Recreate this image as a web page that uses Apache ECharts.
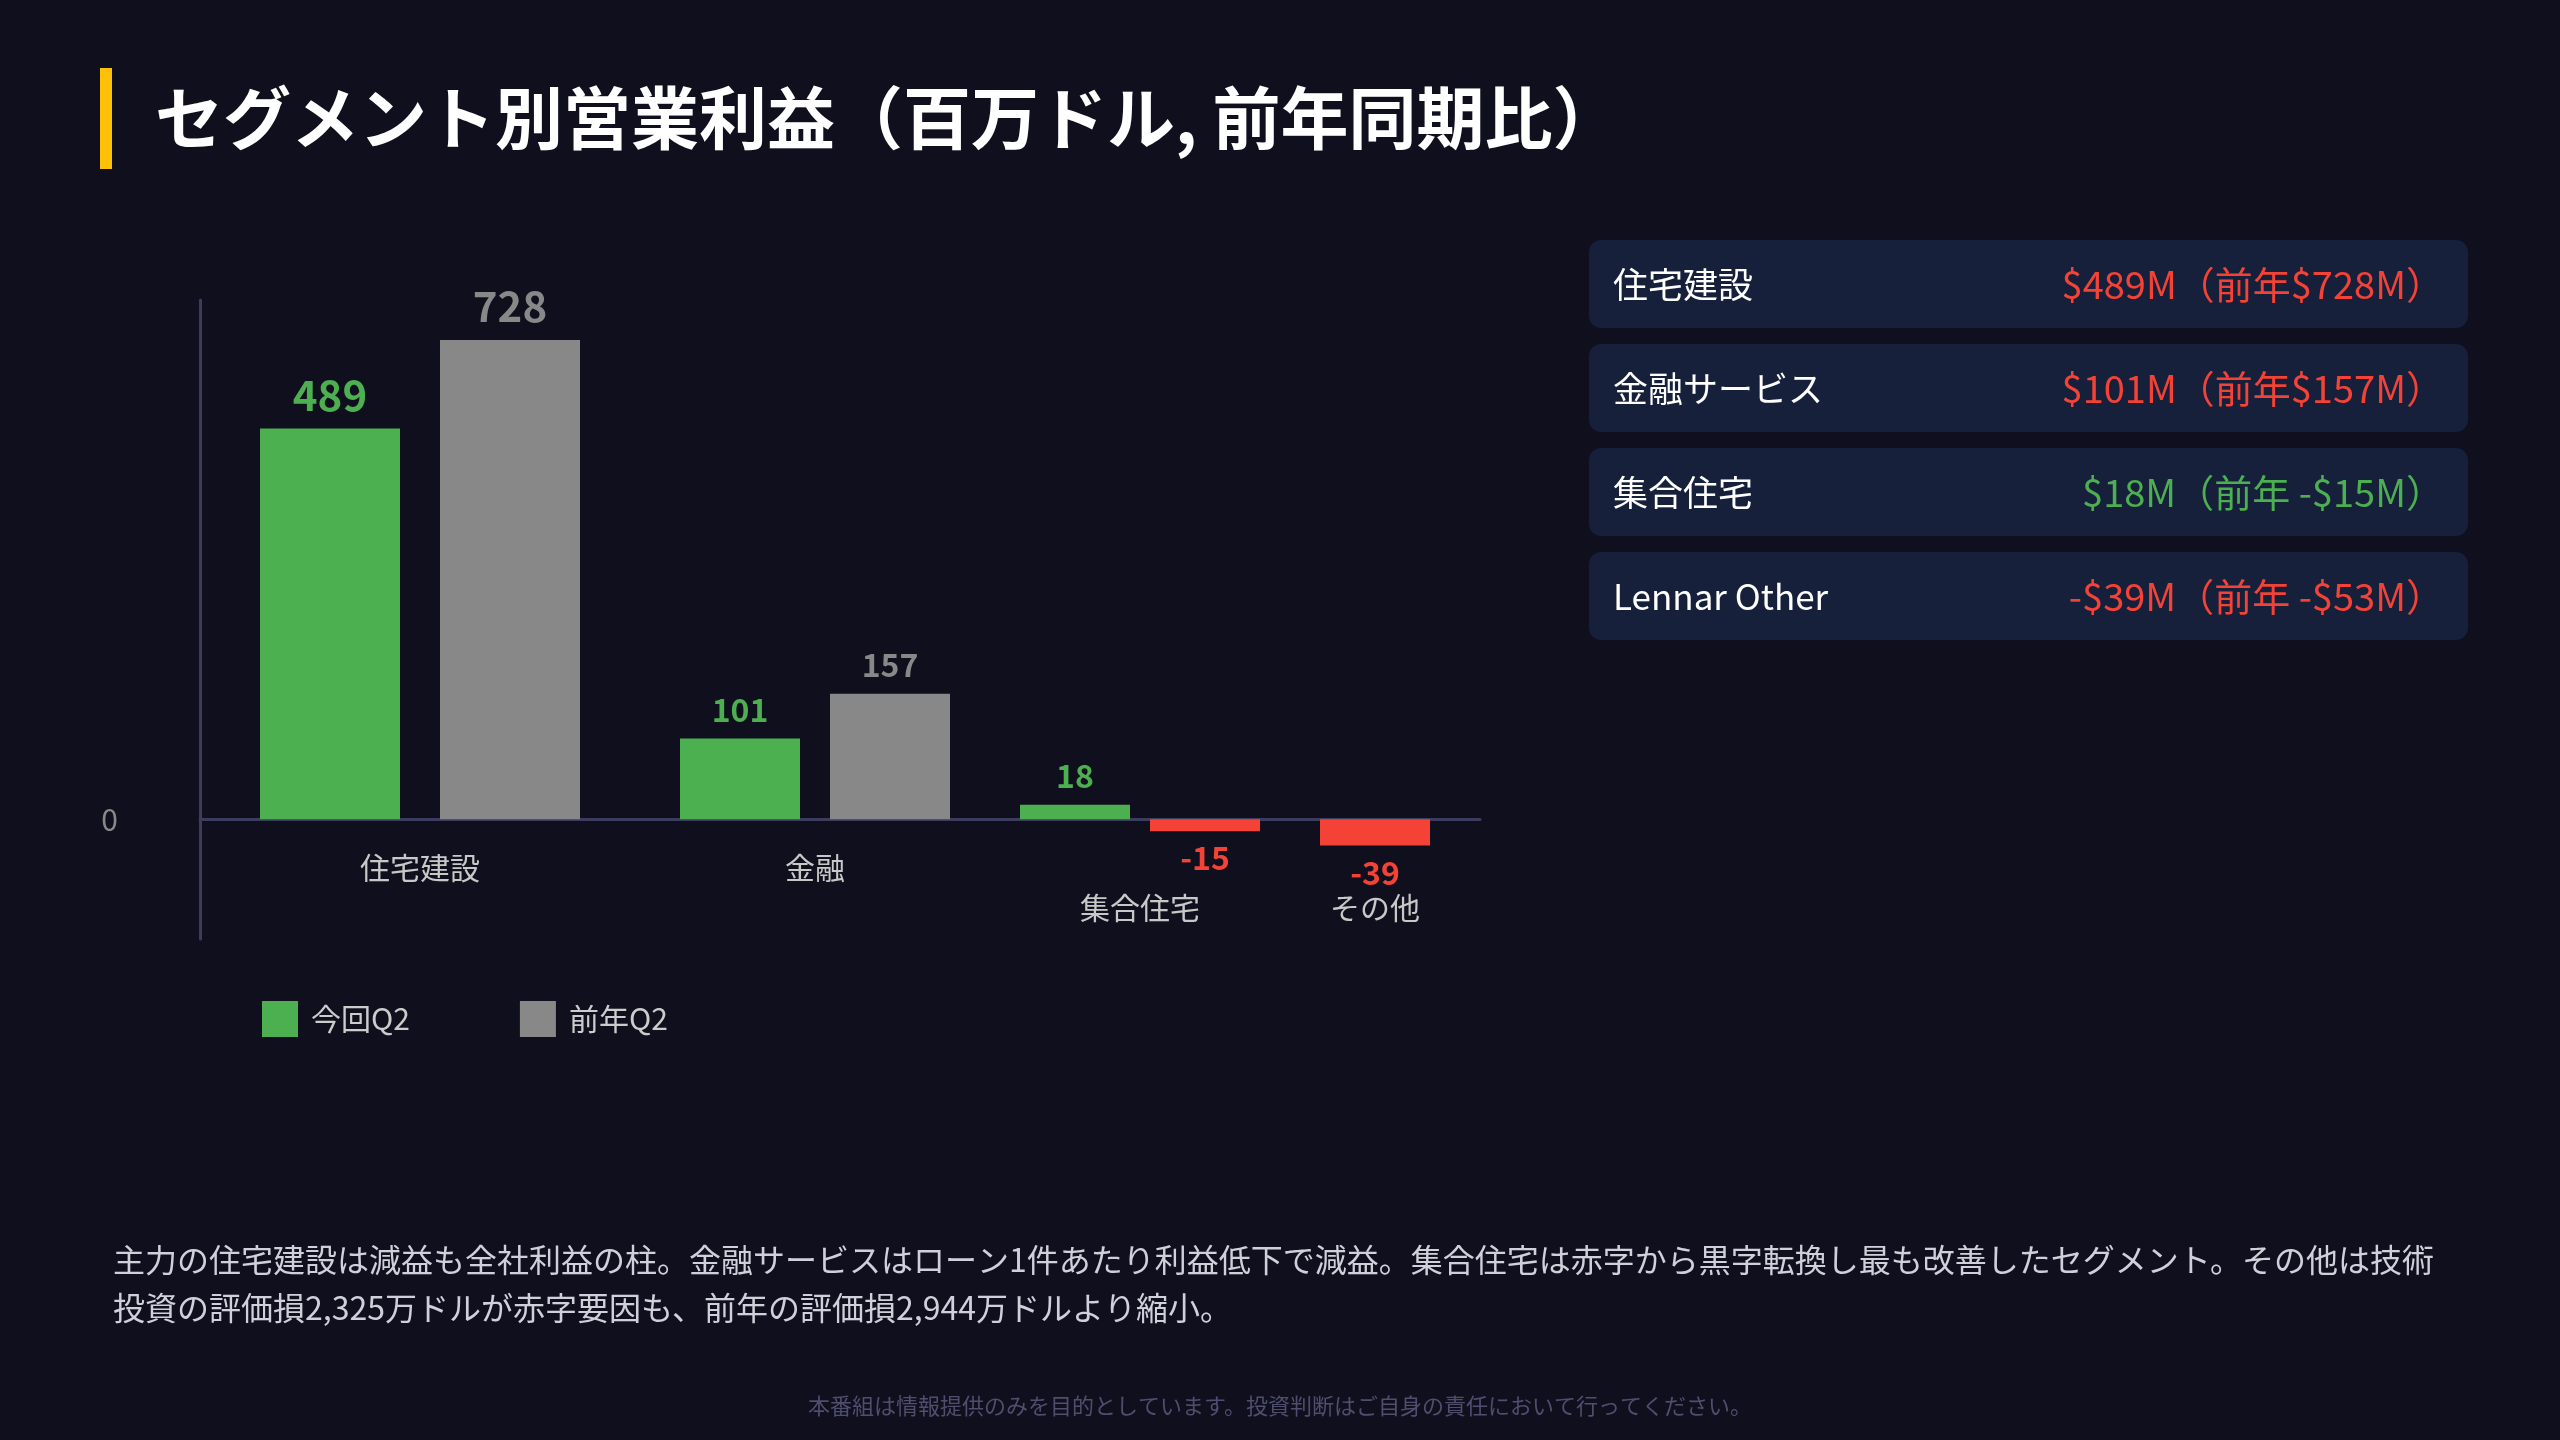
<!DOCTYPE html>
<html>
<head>
<meta charset="utf-8">
<script src="https://cdn.jsdelivr.net/npm/echarts@6/dist/echarts.min.js"></script>
<style>
  html, body { margin: 0; padding: 0; background: #0f0f1e; }
  #chart { width: 2560px; height: 1440px; }
</style>
</head>
<body>
<div id="chart"></div>
<script>
// ---- data ----
const categories = ['住宅建設', '金融', '集合住宅', 'その他'];
const currentQ2 = [489, 101, 18, -39];
const prevQ2 = [728, 157, -15, null];   // その他の前年バーは図に描かれていない
const seriesNames = ['今回Q2', '前年Q2'];
const yTickLabels = ['0'];

const cardLabels = ['住宅建設', '金融サービス', '集合住宅', 'Lennar Other'];
const cardCurrent = [489, 101, 18, -39];
const cardPrev = [728, 157, -15, -53];
const cardTone = ['down', 'down', 'up', 'down'];

const titleText = 'セグメント別営業利益（百万ドル, 前年同期比）';
const noteLines = [
  '主力の住宅建設は減益も全社利益の柱。金融サービスはローン1件あたり利益低下で減益。集合住宅は赤字から黒字転換し最も改善したセグメント。その他は技術',
  '投資の評価損2,325万ドルが赤字要因も、前年の評価損2,944万ドルより縮小。'
];
const footerText = '本番組は情報提供のみを目的としています。投資判断はご自身の責任において行ってください。';

// ---- layout / style ----
const FONT = '"Noto Sans CJK JP", "Noto Sans", sans-serif';
const GREEN = '#4caf50', GREY = '#888888', RED = '#f44336';
const AXIS_COLOR = '#3c3c5e';
const GROUP_X = [220, 615, 940, 1175];     // group centres in x-axis units
const BAR_W = [140, 120, 110, 110];        // bar widths in x-axis units
const BAR_GAP = [40, 30, 20, 0];
const LABEL_FS = [42, 32, 32, 32];
const CAP_MAX = 600, CAP_MIN = -33;        // visible value window of the bars

function barRender(slot) {
  return function (params, api) {
    const g = api.value(0), v = api.value(1);
    const two = prevQ2[g] != null;
    const w = BAR_W[g];
    let cx = GROUP_X[g];
    if (two) cx += (slot === 0 ? -1 : 1) * (BAR_GAP[g] / 2 + w / 2);
    const shown = Math.max(CAP_MIN, Math.min(CAP_MAX, v));
    const p0 = api.coord([cx - w / 2, 0]);
    const p1 = api.coord([cx + w / 2, shown]);
    const top = Math.min(p0[1], p1[1]);
    const h = Math.abs(p1[1] - p0[1]);
    const color = v < 0 ? RED : (slot === 0 ? GREEN : GREY);
    const fs = LABEL_FS[g];
    const ly = v >= 0 ? top - 13 - fs / 2 : top + h + 11 + fs / 2;
    return {
      type: 'group',
      children: [
        { type: 'rect', shape: { x: p0[0], y: top, width: p1[0] - p0[0], height: h }, style: { fill: color } },
        { type: 'text', style: { text: String(v), x: (p0[0] + p1[0]) / 2, y: ly, fill: color,
            fontSize: fs, fontWeight: 'bold', fontFamily: FONT, align: 'center', verticalAlign: 'middle' } }
      ]
    };
  };
}

function catRender(params, api) {
  const g = api.value(0);
  const hasNeg = currentQ2[g] < 0 || (prevQ2[g] != null && prevQ2[g] < 0);
  const p = api.coord([GROUP_X[g], 0]);
  return {
    type: 'text',
    style: { text: categories[g], x: p[0], y: p[1] + (hasNeg ? 88 : 48), fill: '#c8c8c8',
      fontSize: 30, fontFamily: FONT, align: 'center', verticalAlign: 'middle' }
  };
}

function fmt(v) { return v < 0 ? '-$' + (-v) + 'M' : '$' + v + 'M'; }

const graphics = [
  { type: 'rect', shape: { x: 100, y: 68, width: 12, height: 101 }, style: { fill: '#ffc107' } },
  { type: 'text', x: 155, y: 118, style: { text: titleText, fill: '#ffffff', fontSize: 68, fontWeight: 'bold',
      fontFamily: FONT, verticalAlign: 'middle' } },
  { type: 'text', x: 113, y: 1236, style: { text: noteLines.join('\n'), fill: '#d0d0da', fontSize: 32,
      lineHeight: 48, fontFamily: FONT, verticalAlign: 'top' } },
  { type: 'text', x: 1280, y: 1406, style: { text: footerText, fill: '#4e4e6e', fontSize: 22,
      fontFamily: FONT, align: 'center', verticalAlign: 'middle' } }
];
cardLabels.forEach(function (lab, i) {
  const y = 240 + i * 104;
  const col = cardTone[i] === 'up' ? GREEN : RED;
  const val = fmt(cardCurrent[i]) + '（前年' + (cardPrev[i] < 0 ? ' ' : '') + fmt(cardPrev[i]) + '）';
  graphics.push(
    { type: 'rect', shape: { x: 1589, y: y, width: 879, height: 88, r: 12 }, style: { fill: '#17203b' } },
    { type: 'text', x: 1613, y: y + 45, style: { text: lab, fill: '#ffffff', fontSize: 35, fontFamily: FONT,
        verticalAlign: 'middle' } },
    { type: 'text', x: 2444, y: y + 45, style: { text: val, fill: col, fontSize: 38, fontFamily: FONT,
        align: 'right', verticalAlign: 'middle' } }
  );
});

const chart = echarts.init(document.getElementById('chart'), null, { renderer: 'canvas' });
chart.setOption({
  backgroundColor: '#0f0f1e',
  animation: false,
  textStyle: { fontFamily: FONT },
  grid: { left: 200, right: 1080, top: 300, bottom: 501, containLabel: false },
  xAxis: {
    type: 'value', min: 0, max: 1280,
    axisLine: { show: true, onZero: true, lineStyle: { color: AXIS_COLOR, width: 3 } },
    axisTick: { show: false }, axisLabel: { show: false }, splitLine: { show: false }
  },
  yAxis: {
    type: 'value', min: -150, max: 650, interval: 50,
    axisLine: { show: true, lineStyle: { color: AXIS_COLOR, width: 3 } },
    axisTick: { show: false }, splitLine: { show: false },
    axisLabel: {
      color: '#888888', fontSize: 30, margin: 82, fontFamily: FONT,
      formatter: function (v) { return yTickLabels.indexOf(String(v)) >= 0 ? String(v) : ''; }
    }
  },
  legend: {
    data: [{ name: seriesNames[0], icon: 'rect' }, { name: seriesNames[1], icon: 'rect' }],
    left: 257, top: 996, itemWidth: 36, itemHeight: 36, itemGap: 110,
    textStyle: { color: '#cccccc', fontSize: 30, fontFamily: FONT, padding: [0, 0, 0, 8] }
  },
  series: [
    { type: 'custom', name: seriesNames[0], itemStyle: { color: GREEN }, renderItem: barRender(0),
      data: currentQ2.map(function (v, i) { return [i, v]; }) },
    { type: 'custom', name: seriesNames[1], itemStyle: { color: GREY }, renderItem: barRender(1),
      data: prevQ2.map(function (v, i) { return [i, v]; }).filter(function (d) { return d[1] != null; }) },
    { type: 'custom', name: 'categories', silent: true, renderItem: catRender,
      data: categories.map(function (c, i) { return [i, 0]; }) }
  ],
  graphic: graphics
});
</script>
</body>
</html>
